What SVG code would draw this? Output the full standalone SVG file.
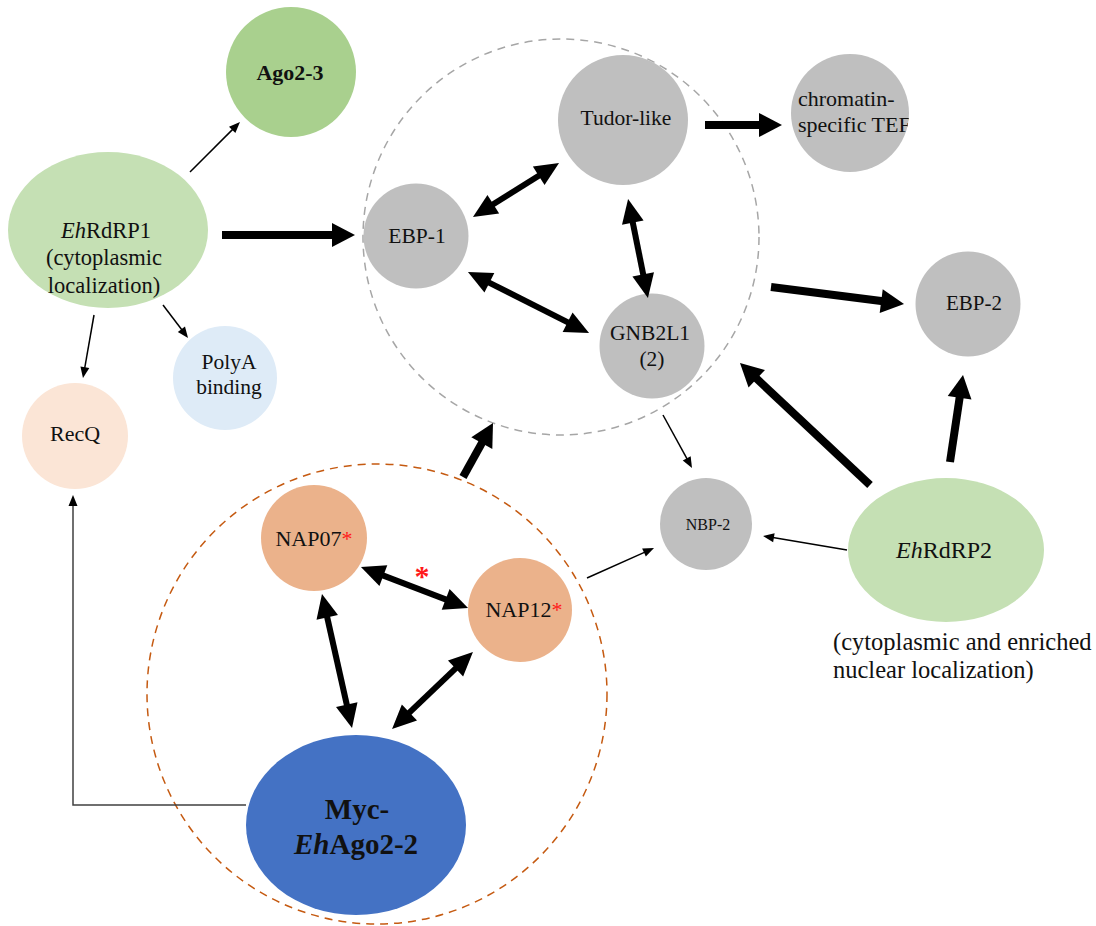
<svg xmlns="http://www.w3.org/2000/svg" width="1096" height="926" viewBox="0 0 1096 926">
<style>
text{font-family:"Liberation Serif","Times New Roman",serif;fill:#111;text-anchor:middle}
.thick{stroke:#000;stroke-width:8;fill:none;marker-end:url(#hBig)}
.bi{stroke:#000;stroke-width:6;fill:none;marker-start:url(#hBi);marker-end:url(#hBi)}
.thin{stroke:#000;stroke-width:1.5;fill:none;marker-end:url(#hThin)}
.gray{fill:#bfbfbf}
.red{fill:#ff1a1a}
</style>
<defs>
<marker id="hBig" markerUnits="userSpaceOnUse" markerWidth="26" markerHeight="26" refX="2" refY="12" orient="auto" overflow="visible"><path d="M0,0 L23,12 L0,24 z" fill="#000"/></marker>
<marker id="hBi" markerUnits="userSpaceOnUse" markerWidth="26" markerHeight="24" refX="2" refY="11" orient="auto-start-reverse" overflow="visible"><path d="M0,0 L24,11 L0,22 z" fill="#000"/></marker>
<marker id="hThin" markerUnits="userSpaceOnUse" markerWidth="12" markerHeight="10" refX="1" refY="4.5" orient="auto" overflow="visible"><path d="M0,0 L11,4.5 L0,9 z" fill="#000"/></marker>
<clipPath id="clipTEF"><circle cx="850" cy="113" r="59"/></clipPath>
</defs>
<rect width="1096" height="926" fill="#fff"/>

<g id="clusters">
<circle cx="561" cy="237" r="198" fill="none" stroke="#a6a6a6" stroke-width="1.5" stroke-dasharray="8,6"/>
<circle cx="377" cy="694" r="230" fill="none" stroke="#c55a11" stroke-width="1.5" stroke-dasharray="8,6"/>
</g>

<g id="node-ago23"><circle cx="291" cy="72" r="65" fill="#a9d08e"/><text x="290" y="80" font-size="22" font-weight="bold">Ago2-3</text></g>
<g id="node-ehrdrp1"><ellipse cx="108" cy="230" rx="100" ry="78" fill="#c5e0b4"/>
<text x="106" y="238" font-size="22.5"><tspan font-style="italic">Eh</tspan>RdRP1</text>
<text x="104" y="265" font-size="22.5">(cytoplasmic</text>
<text x="104" y="293" font-size="22.5">localization)</text></g>
<g id="node-polya"><circle cx="225" cy="378" r="52" fill="#deebf7"/><text x="229" y="369" font-size="21.5">PolyA</text><text x="229" y="394" font-size="21.5">binding</text></g>
<g id="node-recq"><circle cx="75" cy="436" r="53" fill="#fbe5d6"/><text x="75" y="441" font-size="22">RecQ</text></g>
<g id="node-tudor"><circle cx="623" cy="120" r="65" class="gray"/><text x="626" y="125" font-size="21.5">Tudor-like</text></g>
<g id="node-ebp1"><circle cx="416" cy="236" r="52.5" class="gray"/><text x="417" y="243" font-size="21.5">EBP-1</text></g>
<g id="node-gnb2l1"><circle cx="652" cy="346" r="52.5" class="gray"/><text x="650" y="340" font-size="21.5">GNB2L1</text><text x="652" y="366" font-size="21.5">(2)</text></g>
<g id="node-tef"><circle cx="850" cy="113" r="59" class="gray"/>
<g clip-path="url(#clipTEF)"><text x="798" y="106" font-size="22" style="text-anchor:start">chromatin-</text><text x="798" y="132" font-size="22" style="text-anchor:start">specific TEF</text></g></g>
<g id="node-ebp2"><circle cx="968" cy="304" r="52.5" class="gray"/><text x="974" y="310" font-size="21">EBP-2</text></g>
<g id="node-nbp2"><circle cx="706" cy="524" r="46" class="gray"/><text x="708" y="530" font-size="16">NBP-2</text></g>
<g id="node-ehrdrp2"><ellipse cx="946" cy="550" rx="98" ry="72" fill="#c5e0b4"/><text x="944" y="558" font-size="24"><tspan font-style="italic">Eh</tspan>RdRP2</text></g>
<g id="label-ehrdrp2"><text x="833" y="650" font-size="24.5" style="text-anchor:start">(cytoplasmic and enriched</text><text x="833" y="678" font-size="24.5" style="text-anchor:start">nuclear localization)</text></g>
<g id="node-nap07"><circle cx="314" cy="538" r="53" fill="#ebb28b"/><text x="314" y="546" font-size="22">NAP07<tspan class="red">*</tspan></text></g>
<g id="node-nap12"><circle cx="520" cy="610" r="52" fill="#ebb28b"/><text x="524" y="617" font-size="22">NAP12<tspan class="red">*</tspan></text></g>
<g id="node-myc"><ellipse cx="356" cy="825" rx="110" ry="90" fill="#4472c4"/>
<text x="357" y="819" font-size="29" font-weight="bold">Myc-</text>
<text x="356" y="854" font-size="29" font-weight="bold"><tspan font-style="italic">Eh</tspan>Ago2-2</text></g>
<g id="star"><text x="422" y="586" font-size="30" font-weight="bold" class="red">*</text></g>

<g id="connectors">
<line class="thick" x1="222" y1="235" x2="334" y2="235"/>
<line class="thick" x1="705" y1="125" x2="761" y2="125"/>
<line class="thick" x1="771" y1="287" x2="883.2" y2="301.3"/>
<line class="thick" x1="870" y1="485" x2="755.3" y2="377.4"/>
<line class="thick" x1="950" y1="462" x2="959.9" y2="395.8"/>
<line class="thick" stroke-width="7" x1="463" y1="477" x2="482.8" y2="441.4"/>
<line class="bi" x1="491.6" y1="205.3" x2="540.4" y2="174.7"/>
<line class="bi" x1="632.4" y1="220.6" x2="643.6" y2="276.4"/>
<line class="bi" x1="487.6" y1="281.9" x2="569.4" y2="323.1"/>
<line class="bi" x1="381.5" y1="574.9" x2="447.5" y2="600.1"/>
<line class="bi" x1="326.8" y1="615.5" x2="347.2" y2="706.5"/>
<line class="bi" x1="457" y1="667.2" x2="408" y2="713.8"/>
<line class="thin" x1="190" y1="172" x2="232.9" y2="129.1"/>
<line class="thin" x1="94" y1="315" x2="84.7" y2="368.2"/>
<line class="thin" x1="163" y1="305" x2="182" y2="330"/>
<line class="thin" x1="663" y1="415" x2="687.2" y2="459.2"/>
<line class="thin" x1="587" y1="578" x2="644.9" y2="552.1"/>
<line class="thin" x1="847" y1="550" x2="772.9" y2="537.6"/>
<polyline class="thin" style="stroke:#404040" points="246,805 73,805 73,505"/>
</g>
</svg>
